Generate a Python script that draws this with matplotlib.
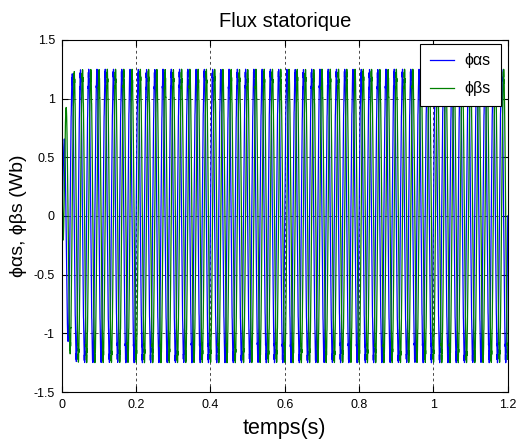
import numpy as np
import matplotlib
matplotlib.use("Agg")
import matplotlib.pyplot as plt

plt.rcParams['font.family'] = ['Liberation Sans', 'DejaVu Sans']

# Simulation settings for the stator flux components
t_end = 1.2          # s
dt = 2.5e-4          # s, solver step
flux_ref = 1.22      # Wb, flux magnitude in steady state
freq = 45.0          # Hz, electrical frequency of the flux
tau_build = 0.008    # s, flux build-up time constant
ripple = 0.03        # Wb, hysteresis band ripple

xticks = [0, 0.2, 0.4, 0.6, 0.8, 1.0, 1.2]
xtick_labels = ['0', '0.2', '0.4', '0.6', '0.8', '1', '1.2']
yticks = [-1.5, -1, -0.5, 0, 0.5, 1, 1.5]
ytick_labels = ['-1.5', '-1', '-0.5', '0', '0.5', '1', '1.5']

t = np.arange(0, t_end + dt, dt)
mag = flux_ref * (1 - np.exp(-t / tau_build)) + ripple * np.sign(np.sin(2 * np.pi * 900 * t)) * (t > 0.02)
theta = 2 * np.pi * freq * t
phi_a = mag * np.sin(theta)
phi_b = np.where(t < 0.004, 0.55 * (1 - t / 0.004), 0) - mag * np.cos(theta)

fig = plt.figure(figsize=(5.24, 4.43), dpi=100)
ax = fig.add_axes([0.118, 0.115, 0.851, 0.795])

ax.plot(t, phi_a, color=(0, 0, 1), lw=0.9, label='ϕαs')
ax.plot(t, phi_b, color=(0, 0.5, 0), lw=0.9, label='ϕβs')

ax.set_xlim(0, 1.2)
ax.set_ylim(-1.5, 1.5)
ax.set_xticks(xticks)
ax.set_xticklabels(xtick_labels)
ax.set_yticks(yticks)
ax.set_yticklabels(ytick_labels)
ax.tick_params(direction='in', labelsize=9, length=4, top=True, right=True, pad=5)
ax.grid(True, color='black', linestyle=(0, (4, 4)), linewidth=0.5)

ax.set_title('Flux statorique', fontsize=14.5, pad=9)
ax.set_xlabel('temps(s)', fontsize=15.5, labelpad=5)
ax.set_ylabel('ϕαs, ϕβs (Wb)', fontsize=14, labelpad=5)

leg = ax.legend(loc='upper right', fontsize=11.5, fancybox=False, framealpha=1,
                edgecolor='black', handlelength=1.5, handletextpad=0.7,
                labelspacing=0.8, borderpad=0.6, borderaxespad=0,
                bbox_to_anchor=(0.984, 0.989))
leg.get_frame().set_linewidth(0.8)

for s in ax.spines.values():
    s.set_linewidth(0.8)

fig.savefig('out.png', dpi=100)
